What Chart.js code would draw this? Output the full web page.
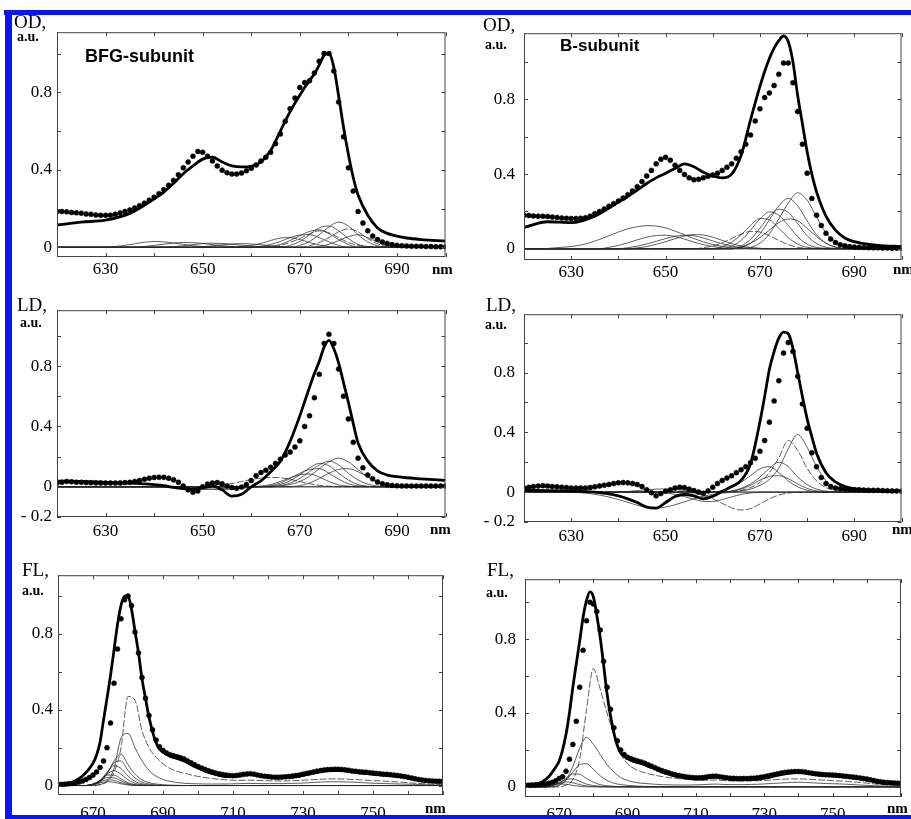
<!DOCTYPE html>
<html>
<head>
<meta charset="utf-8">
<script src="https://cdn.jsdelivr.net/npm/chart.js@4.4.0/dist/chart.umd.min.js"></script>
<style>
body { margin: 0; background: #fff; width: 911px; height: 819px; overflow: hidden; position: relative; font-family: "Liberation Serif", serif; }
canvas { position: absolute; }
.t { position: absolute; color: #000; white-space: nowrap; line-height: 1; z-index: 5; }
.q { font-size: 19px; }
.u { font-size: 14px; font-weight: bold; }
.n { font-size: 15px; font-weight: bold; }
.s { font-family: "Liberation Sans", Arial, sans-serif; font-weight: bold; font-size: 18px; }
.blue { position: absolute; background: #0a14f5; z-index: 9; }
</style>
</head>
<body>
<div class="blue" style="left:4px;top:10px;width:907px;height:5px"></div>
<div class="blue" style="left:5px;top:10px;width:7px;height:809px"></div>
<div class="blue" style="left:5px;top:815px;width:906px;height:4px"></div>

<div class="t q" style="left:14px;top:12px">OD,</div>
<div class="t u" style="left:17px;top:30px">a.u.</div>
<div class="t s" style="left:85px;top:47px">BFG-subunit</div>
<div class="t q" style="left:483px;top:15px">OD,</div>
<div class="t u" style="left:485px;top:38px">a.u.</div>
<div class="t s" style="left:560px;top:37px;font-size:17px">B-subunit</div>
<div class="t q" style="left:17px;top:295px">LD,</div>
<div class="t u" style="left:20px;top:316px">a.u.</div>
<div class="t q" style="left:486px;top:295px">LD,</div>
<div class="t u" style="left:485px;top:318px">a.u.</div>
<div class="t q" style="left:22px;top:560px">FL,</div>
<div class="t u" style="left:22px;top:584px">a.u.</div>
<div class="t q" style="left:487px;top:560px">FL,</div>
<div class="t u" style="left:486px;top:586px">a.u.</div>
<div class="t n" style="left:432px;top:262px">nm</div>
<div class="t n" style="left:893px;top:262px">nm</div>
<div class="t n" style="left:430px;top:522px">nm</div>
<div class="t n" style="left:892px;top:522px">nm</div>
<div class="t n" style="left:425px;top:801px">nm</div>
<div class="t n" style="left:887px;top:801px">nm</div>

<script>
// wavelength grids (nm)
const nmFit = [620,625,630,635,640,642,644,646,648,650,652,654,656,658,660,662,664,666,668,670,671,672,673,674,675,676,677,678,679,680,681,682,684,686,688,690,692,695,700];
const nmDots = [620,621,622,623,624,625,626,627,628,629,630,631,632,633,634,635,636,637,638,639,640,641,642,643,644,645,646,647,648,649,650,651,652,653,654,655,656,657,658,659,660,661,662,663,664,665,666,667,668,669,670,671,672,673,674,675,676,677,678,679,680,681,682,683,684,685,686,687,688,689,690,691,692,693,694,695,696,697,698,699,700];
const nmComp = [620,622,624,626,628,630,632,634,636,638,640,642,644,646,648,650,652,654,656,658,660,662,664,666,668,670,672,674,676,678,680,682,684,686,688,690,692,694,696,698,700];
const nmFitFL = [660,663,665,667,669,670,671,672,673,674,675,676,677,678,679,680,681,682,683,684,685,686,687,688,689,690,692,694,696,698,700,702,704,706,708,710,712,714,716,718,720,722,724,726,728,730,732,734,736,738,740,742,744,746,748,750,752,754,756,758,760,762,764,766,768,770];
const nmDotsFL = [660,661,662,663,664,665,666,667,668,669,670,671,672,673,674,675,676,677,678,679,680,681,682,683,684,685,686,687,688,689,690,691,692,693,694,695,696,697,698,699,700,701,702,703,704,705,706,707,708,709,710,711,712,713,714,715,716,717,718,719,720,721,722,723,724,725,726,727,728,729,730,731,732,733,734,735,736,737,738,739,740,741,742,743,744,745,746,747,748,749,750,751,752,753,754,755,756,757,758,759,760,761,762,763,764,765,766,767,768,769,770];
const nmCompFL = [660,662,664,666,668,670,672,674,676,678,680,682,684,686,688,690,692,694,696,698,700,702,704,706,708,710,712,714,716,718,720,722,724,726,728,730,732,734,736,738,740,742,744,746,748,750,752,754,756,758,760,762,764,766,768,770];

// axis ticks
const xTicksOD = [620,630,640,650,660,670,680,690,700];
const xLabOD = ['','630','','650','','670','','690',''];
const xTicksFL = [660,670,680,690,700,710,720,730,740,750,760,770];
const xLabFL = ['','670','','690','','710','','730','','750','',''];
const yTicksOD = [0,0.2,0.4,0.6,0.8,1.0];
const yLabOD = ['0','','0.4','','0.8',''];
const yTicksLD = [-0.2,0,0.2,0.4,0.6,0.8,1.0];
const yLabLD = ['- 0.2','0','','0.4','','0.8',''];

// OD, BFG-subunit
const odFitBFG = [0.115,0.13,0.14,0.175,0.25,0.285,0.33,0.38,0.42,0.455,0.465,0.44,0.42,0.415,0.418,0.44,0.5,0.6,0.7,0.785,0.825,0.86,0.895,0.94,0.99,1.0,0.93,0.78,0.62,0.48,0.36,0.27,0.165,0.1,0.072,0.058,0.048,0.04,0.032];
const odDotsBFG = [0.185,0.185,0.183,0.18,0.178,0.176,0.172,0.17,0.167,0.165,0.165,
  0.166,0.17,0.177,0.185,0.193,0.203,0.215,0.228,0.243,0.258,
  0.277,0.297,0.32,0.345,0.375,0.41,0.44,0.47,0.495,0.49,
  0.47,0.445,0.42,0.398,0.385,0.378,0.378,0.383,0.395,0.408,
  0.425,0.445,0.465,0.49,0.535,0.585,0.65,0.715,0.77,0.825,
  0.85,0.86,0.9,0.96,1.0,1.0,0.91,0.75,0.57,0.41,
  0.29,0.185,0.125,0.085,0.058,0.04,0.028,0.02,0.014,0.01,
  0.008,0.007,0.006,0.005,0.005,0.004,0.004,0.003,0.003,0.003];
const odCompBFG = [
  [668,[0,0.01,0.03,0.065,0.105,0.13,0.11,0.065,0.028,0.008,0]],
  [666,[0,0.01,0.03,0.065,0.1,0.11,0.085,0.045,0.015,0.004,0]],
  [662,[0,0.005,0.015,0.035,0.06,0.082,0.09,0.07,0.04,0.015,0]],
  [664,[0,0.01,0.025,0.045,0.07,0.085,0.075,0.05,0.025,0.01,0.003,0]],
  [660,[0,0.005,0.015,0.03,0.05,0.063,0.065,0.05,0.028,0.01,0]],
  [656,[0,0.004,0.01,0.02,0.035,0.048,0.05,0.04,0.025,0.012,0.004,0]],
  [670,[0,0.008,0.025,0.05,0.08,0.095,0.08,0.045,0.018,0.005,0]],
  [672,[0,0.005,0.015,0.035,0.055,0.065,0.05,0.028,0.01,0.003,0]],
  [630,[0,0.004,0.01,0.018,0.026,0.03,0.028,0.022,0.015,0.008,0.004,0.001,0]],
  [636,[0,0.004,0.01,0.016,0.022,0.025,0.024,0.02,0.014,0.008,0.004,0.001,0]],
  [642,[0,0.003,0.008,0.014,0.019,0.021,0.02,0.016,0.011,0.006,0.003,0]],
  [648,[0,0.003,0.008,0.013,0.017,0.019,0.017,0.013,0.008,0.004,0.001,0]]
];

// OD, B-subunit
const odFitB = [0.115,0.145,0.14,0.175,0.25,0.28,0.315,0.35,0.38,0.405,0.43,0.455,0.44,0.41,0.39,0.38,0.4,0.5,0.69,0.87,0.95,1.02,1.075,1.115,1.14,1.11,1.0,0.82,0.67,0.52,0.4,0.305,0.175,0.1,0.058,0.038,0.028,0.018,0.012];
const odDotsB = [0.18,0.178,0.176,0.175,0.174,0.173,0.17,0.168,0.165,0.163,0.162,
  0.162,0.163,0.166,0.175,0.188,0.2,0.213,0.228,0.242,0.256,
  0.272,0.29,0.31,0.332,0.36,0.39,0.42,0.455,0.48,0.49,
  0.475,0.448,0.42,0.398,0.38,0.37,0.372,0.38,0.388,0.395,
  0.405,0.42,0.437,0.455,0.485,0.52,0.56,0.61,0.685,0.75,
  0.81,0.835,0.875,0.935,0.995,0.995,0.89,0.735,0.56,0.405,
  0.27,0.18,0.125,0.083,0.052,0.034,0.022,0.016,0.012,0.009,
  0.008,0.007,0.006,0.005,0.005,0.004,0.004,0.003,0.003,0.003];
const odCompB = [
  [624,[0,0.004,0.008,0.012,0.02,0.033,0.05,0.07,0.09,0.107,0.118,0.124,0.122,0.112,0.095,0.075,0.055,0.037,0.023,0.013,0.007,0.003,0]],
  [636,[0,0.008,0.018,0.032,0.048,0.062,0.071,0.073,0.066,0.052,0.036,0.022,0.012,0.005,0.002,0]],
  [640,[0,0.006,0.014,0.026,0.04,0.055,0.067,0.073,0.07,0.058,0.042,0.027,0.015,0.007,0.003,0]],
  [642,[0,0.005,0.012,0.024,0.038,0.054,0.068,0.076,0.074,0.062,0.045,0.028,0.015,0.007,0.003,0]],
  [656,[0,0.006,0.015,0.032,0.055,0.078,0.093,0.09,0.07,0.045,0.022,0.008,0.002,0]],
  [660,[0,0.012,0.035,0.075,0.125,0.162,0.155,0.11,0.06,0.025,0.008,0.002,0]],
  [662,[0,0.015,0.045,0.1,0.16,0.198,0.18,0.125,0.065,0.025,0.008,0.002,0]],
  [664,[0,0.015,0.05,0.11,0.175,0.212,0.195,0.135,0.07,0.028,0.008,0.002,0]],
  [664,[0,0.008,0.03,0.08,0.155,0.23,0.27,0.23,0.15,0.075,0.03,0.008,0.002,0]],
  [666,[0,0.008,0.03,0.08,0.16,0.245,0.3,0.26,0.17,0.085,0.032,0.01,0.002,0]],
  [664,[0,0.01,0.03,0.06,0.1,0.14,0.16,0.15,0.11,0.065,0.03,0.01,0.002,0]]
];

// LD, BFG-subunit
const ldFitBFG = [0.038,0.036,0.03,0.025,0.015,0.008,-0.004,-0.012,-0.017,-0.006,0.004,-0.02,-0.062,-0.05,0.0,0.04,0.1,0.17,0.3,0.47,0.565,0.66,0.75,0.83,0.925,0.97,0.915,0.82,0.69,0.56,0.42,0.29,0.17,0.105,0.078,0.067,0.06,0.053,0.042];
const ldDotsBFG = [0.025,0.03,0.036,0.033,0.03,0.03,0.028,0.027,0.026,0.025,0.025,
  0.025,0.025,0.026,0.028,0.03,0.035,0.042,0.05,0.057,0.062,
  0.064,0.063,0.057,0.046,0.03,0.006,-0.02,-0.036,-0.027,0.0,
  0.018,0.025,0.028,0.02,0.006,-0.004,-0.01,-0.002,0.015,0.042,
  0.074,0.095,0.11,0.13,0.155,0.183,0.21,0.23,0.263,0.305,
  0.4,0.47,0.59,0.745,0.95,1.01,0.95,0.78,0.6,0.45,
  0.295,0.19,0.126,0.078,0.053,0.032,0.021,0.013,0.009,0.007,
  0.006,0.006,0.005,0.005,0.005,0.005,0.005,0.005,0.005,0.005];
const ldCompBFG = [
  [664,[0,0.005,0.015,0.035,0.07,0.12,0.165,0.19,0.165,0.115,0.065,0.03,0.01,0.003,0]],
  [664,[0,0.008,0.025,0.055,0.1,0.145,0.17,0.145,0.09,0.045,0.018,0.005,0.001,0]],
  [662,[0,0.005,0.015,0.04,0.08,0.125,0.155,0.14,0.09,0.045,0.015,0.004,0]],
  [662,[0,0.008,0.025,0.055,0.09,0.115,0.12,0.09,0.05,0.02,0.006,0.001,0]],
  [668,[0,0.008,0.025,0.055,0.09,0.115,0.12,0.1,0.065,0.032,0.012,0.003,0]],
  [660,[0,0.005,0.015,0.035,0.06,0.08,0.085,0.065,0.035,0.013,0.004,0]],
  [650,[0,0.005,0.012,0.022,0.035,0.048,0.058,0.062,0.06,0.05,0.035,0.02,0.01,0.004,0]],
  [640,[0,-0.003,-0.007,-0.012,-0.016,-0.018,-0.016,-0.012,-0.007,-0.003,0]],
  [646,[0,-0.004,-0.01,-0.016,-0.02,-0.016,-0.01,-0.004,0]]
];

// LD, B-subunit
const ldFitB = [0.012,0.01,0.006,0.0,-0.025,-0.045,-0.07,-0.1,-0.107,-0.07,-0.03,-0.016,-0.025,-0.045,-0.028,0.005,0.037,0.078,0.19,0.47,0.64,0.82,0.94,1.03,1.07,1.06,0.96,0.8,0.64,0.49,0.37,0.26,0.13,0.068,0.037,0.023,0.017,0.012,0.006];
const ldDotsB = [0.027,0.032,0.037,0.04,0.043,0.04,0.037,0.035,0.033,0.03,0.027,
  0.027,0.027,0.028,0.031,0.035,0.041,0.046,0.051,0.057,0.062,
  0.064,0.062,0.057,0.051,0.037,0.016,-0.004,-0.025,-0.01,0.006,
  0.015,0.027,0.033,0.03,0.02,0.01,0.0,-0.008,0.008,0.033,
  0.057,0.078,0.094,0.109,0.13,0.15,0.17,0.197,0.226,0.273,
  0.345,0.468,0.61,0.745,0.93,1.0,0.94,0.775,0.59,0.427,
  0.263,0.17,0.098,0.057,0.037,0.027,0.022,0.02,0.018,0.016,
  0.015,0.014,0.013,0.012,0.012,0.01,0.009,0.008,0.007,0.006];
const ldCompB = [
  [664,[0.002,0.008,0.02,0.045,0.085,0.16,0.29,0.385,0.3,0.17,0.075,0.028,0.01,0.003,0]],
  [664,[0.004,0.012,0.03,0.065,0.13,0.23,0.345,0.28,0.16,0.075,0.03,0.01,0.003,0]],
  [662,[0,0.008,0.025,0.055,0.1,0.16,0.2,0.17,0.1,0.05,0.02,0.006,0.001,0]],
  [660,[0,0.01,0.03,0.065,0.11,0.155,0.17,0.13,0.075,0.035,0.012,0.003,0]],
  [662,[0,0.006,0.02,0.045,0.08,0.105,0.11,0.09,0.055,0.025,0.008,0.002,0]],
  [630,[0,-0.004,-0.01,-0.02,-0.033,-0.05,-0.068,-0.088,-0.102,-0.107,-0.1,-0.085,-0.065,-0.045,-0.028,-0.015,-0.007,-0.002,0]],
  [648,[0,-0.005,-0.015,-0.03,-0.048,-0.062,-0.063,-0.05,-0.032,-0.016,-0.006,0]],
  [654,[0,-0.008,-0.022,-0.045,-0.075,-0.105,-0.12,-0.11,-0.08,-0.045,-0.02,-0.006,-0.001,0]],
  [640,[0,0.004,0.01,0.016,0.02,0.021,0.018,0.012,0.006,0.002,0]]
];

// FL, BFG-subunit
const flFitBFG = [0.008,0.012,0.025,0.05,0.09,
  0.118,0.16,0.227,0.345,0.46,0.58,0.714,0.85,0.95,1.0,1.0,0.93,0.815,0.7,0.563,0.46,0.36,0.286,0.227,0.193,0.176,
  0.155,0.143,0.13,0.11,0.092,0.076,0.064,0.054,0.047,0.048,
  0.052,0.058,0.058,0.05,0.045,0.042,0.041,0.043,0.047,0.054,
  0.062,0.07,0.076,0.079,0.08,0.078,0.072,0.067,0.064,0.06,
  0.056,0.054,0.05,0.047,0.04,0.032,0.026,0.022,0.02,0.019];
const flDotsBFG = [0.005,0.006,0.007,0.009,0.011,0.014,0.018,0.024,0.032,0.042,0.055,
  0.072,0.095,0.13,0.2,0.33,0.54,0.72,0.88,0.98,1.0,
  0.95,0.81,0.7,0.57,0.46,0.37,0.295,0.24,0.205,0.185,
  0.172,0.163,0.157,0.152,0.147,0.14,0.13,0.12,0.11,0.1,
  0.092,0.085,0.078,0.072,0.066,0.062,0.058,0.055,0.053,0.052,
  0.053,0.056,0.059,0.061,0.062,0.06,0.056,0.052,0.049,0.047,
  0.045,0.044,0.044,0.045,0.046,0.048,0.05,0.053,0.056,0.06,
  0.064,0.068,0.072,0.076,0.079,0.082,0.084,0.085,0.086,0.086,
  0.085,0.083,0.08,0.077,0.075,0.073,0.071,0.07,0.068,0.066,
  0.064,0.062,0.06,0.059,0.057,0.055,0.053,0.05,0.047,0.044,
  0.04,0.036,0.032,0.029,0.027,0.025,0.024,0.023,0.022,0.022];
const flCompBFG = [
  [670,[0,0.005,0.02,0.07,0.2,0.47,0.45,0.29,0.2,0.15,
    0.115,0.09,0.075,0.065,0.056,0.048,0.042,0.037,0.033,0.03,
    0.028,0.027,0.028,0.028,0.026,0.025,0.024,0.024,0.025,0.026,
    0.028,0.03,0.032,0.034,0.035,0.035,0.034,0.032,0.03,0.028,
    0.026,0.024,0.022,0.02,0.018,0.015,0.012,0.01,0.008,0.007,0.006]],
  [670,[0,0.005,0.025,0.09,0.25,0.275,0.2,0.13,0.08,0.05,
    0.032,0.022,0.016,0.012,0.01,0.009,0.008,0.008,0.008,0.008,
    0.009,0.01,0.011,0.011,0.01,0.01,0.01,0.01,0.011,0.012,
    0.013,0.015,0.017,0.019,0.02,0.02,0.019,0.018,0.016,0.014,
    0.012,0.011,0.01,0.009,0.008,0.007,0.006,0.005,0.004,0.003,0.003]],
  [668,[0,0.004,0.018,0.06,0.13,0.165,0.11,0.06,0.03,0.015,0.008,0.004,0.002,0.001,0]],
  [668,[0,0.005,0.02,0.065,0.12,0.13,0.08,0.04,0.018,0.008,0.003,0.001,0]],
  [668,[0,0.006,0.025,0.07,0.105,0.09,0.05,0.022,0.009,0.003,0.001,0]],
  [668,[0,0.006,0.025,0.06,0.078,0.06,0.03,0.012,0.004,0.001,0]],
  [668,[0,0.008,0.028,0.055,0.055,0.035,0.015,0.005,0.002,0]],
  [668,[0,0.008,0.025,0.042,0.04,0.025,0.01,0.003,0]],
  [668,[0,0.008,0.02,0.03,0.027,0.015,0.006,0.001,0]],
  [668,[0,0.006,0.014,0.02,0.017,0.009,0.003,0]]
];

// FL, B-subunit
const flFitB = [0.01,0.014,0.027,0.056,0.107,
  0.14,0.2,0.285,0.4,0.54,0.666,0.79,0.92,1.01,1.056,1.03,0.93,0.81,0.66,0.505,0.386,0.293,0.225,0.183,0.166,0.153,
  0.136,0.127,0.112,0.098,0.081,0.07,0.059,0.053,0.047,0.044,
  0.044,0.05,0.054,0.047,0.042,0.04,0.04,0.04,0.042,0.047,
  0.054,0.064,0.071,0.076,0.078,0.076,0.07,0.064,0.061,0.059,
  0.056,0.053,0.047,0.044,0.037,0.03,0.024,0.02,0.018,0.017];
const flDotsB = [0.008,0.009,0.01,0.011,0.012,0.014,0.016,0.02,0.025,0.033,0.045,
  0.055,0.085,0.15,0.23,0.355,0.54,0.74,0.9,1.0,0.99,
  0.95,0.85,0.68,0.54,0.42,0.32,0.25,0.2,0.175,0.16,
  0.152,0.145,0.14,0.135,0.128,0.12,0.112,0.104,0.096,0.088,
  0.082,0.076,0.07,0.065,0.061,0.058,0.055,0.052,0.05,0.049,
  0.049,0.05,0.053,0.056,0.058,0.058,0.055,0.052,0.049,0.047,
  0.046,0.045,0.045,0.045,0.045,0.046,0.047,0.049,0.052,0.055,
  0.059,0.063,0.067,0.071,0.075,0.078,0.08,0.082,0.083,0.083,
  0.082,0.08,0.077,0.074,0.071,0.069,0.067,0.066,0.065,0.064,
  0.063,0.061,0.059,0.057,0.055,0.053,0.051,0.048,0.045,0.042,
  0.038,0.034,0.03,0.027,0.025,0.023,0.022,0.021,0.02,0.02];
const flCompB = [
  [670,[0,0.01,0.04,0.15,0.42,0.64,0.53,0.4,0.28,0.18,
    0.125,0.098,0.082,0.071,0.063,0.056,0.05,0.046,0.042,0.039,
    0.036,0.035,0.036,0.037,0.034,0.032,0.031,0.031,0.032,0.033,
    0.035,0.037,0.04,0.042,0.043,0.043,0.042,0.04,0.038,0.036,
    0.034,0.032,0.03,0.027,0.024,0.02,0.016,0.013,0.011,0.01,0.009]],
  [668,[0,0.01,0.04,0.11,0.21,0.268,0.23,0.175,0.12,0.08,0.05,
    0.035,0.025,0.02,0.017,0.014,0.012,0.011,0.01,0.01,0.01,
    0.011,0.012,0.014,0.015,0.013,0.012,0.012,0.012,0.013,0.014,
    0.016,0.018,0.02,0.022,0.024,0.025,0.024,0.022,0.02,0.018,
    0.017,0.016,0.014,0.012,0.01,0.008,0.006,0.005,0.004,0.003,0.003]],
  [668,[0,0.01,0.035,0.08,0.12,0.125,0.095,0.06,0.035,0.02,0.012,0.008,0.005,0.003,0.002,0.001,0]],
  [666,[0,0.005,0.02,0.045,0.07,0.068,0.045,0.025,0.012,0.006,0.003,0.001,0]],
  [666,[0,0.008,0.022,0.04,0.043,0.03,0.015,0.007,0.003,0.001,0]],
  [666,[0,0.01,0.02,0.027,0.022,0.012,0.005,0.002,0]],
  [664,[0,0.006,0.012,0.016,0.014,0.008,0.003,0]]
];

// chart-area boxes [left, top, right, bottom] in page pixels
const panels = [
  { box: [57, 20, 447, 257], xr: [620, 700], yr: [-0.05, 1.11], xt: xTicksOD, xl: xLabOD, yt: yTicksOD, yl: yLabOD,
    fitNm: nmFit, fit: odFitBFG, dotNm: nmDots, dots: odDotsBFG, compNm: nmComp, comps: odCompBFG, xpad: 2, ypad: 5, dash: [3, 6] },
  { box: [524, 17, 903, 260], xr: [620, 700], yr: [-0.06, 1.155], xt: xTicksOD, xl: xLabOD, yt: yTicksOD, yl: yLabOD,
    fitNm: nmFit, fit: odFitB, dotNm: nmDots, dots: odDotsB, compNm: nmComp, comps: odCompB, xpad: 2, ypad: 9, dash: [4] },
  { box: [57, 298, 447, 517], xr: [620, 700], yr: [-0.2, 1.17], xt: xTicksOD, xl: xLabOD, yt: yTicksLD, yl: yLabLD,
    fitNm: nmFit, fit: ldFitBFG, dotNm: nmDots, dots: ldDotsBFG, compNm: nmComp, comps: ldCompBFG, xpad: 4, ypad: 5, dash: [6] },
  { box: [524, 298, 903, 522], xr: [620, 700], yr: [-0.2, 1.19], xt: xTicksOD, xl: xLabOD, yt: yTicksLD, yl: yLabLD,
    fitNm: nmFit, fit: ldFitB, dotNm: nmDots, dots: ldDotsB, compNm: nmComp, comps: ldCompB, xpad: 4, ypad: 9, dash: [1, 7] },
  { box: [58, 563, 448, 795], xr: [660, 770], yr: [-0.05, 1.11], xt: xTicksFL, xl: xLabFL, yt: yTicksOD, yl: yLabOD,
    fitNm: nmFitFL, fit: flFitBFG, dotNm: nmDotsFL, dots: flDotsBFG, compNm: nmCompFL, comps: flCompBFG, xpad: 8, ypad: 5, dash: [0] },
  { box: [525, 563, 905, 797], xr: [660, 770], yr: [-0.055, 1.125], xt: xTicksFL, xl: xLabFL, yt: yTicksOD, yl: yLabOD,
    fitNm: nmFitFL, fit: flFitB, dotNm: nmDotsFL, dots: flDotsB, compNm: nmCompFL, comps: flCompB, xpad: 7, ypad: 9, dash: [0] }
];

const YW = 50, XH = 32, PAD = 3;

function pts(xs, ys) {
  return ys.map((y, i) => ({ x: xs[i], y: y }));
}

function compPts(grid, c) {
  const k = grid.indexOf(c[0]);
  const out = c[1].map((v, i) => ({ x: grid[k + i], y: v }));
  if (k > 0) out.unshift({ x: grid[0], y: 0 });
  if (k + c[1].length < grid.length) out.push({ x: grid[grid.length - 1], y: 0 });
  return out;
}

// box frame with inward ticks on all four sides
const frame = {
  id: 'frame',
  afterDatasetsDraw(chart) {
    const { ctx, chartArea: a, scales: { x, y } } = chart;
    ctx.save();
    ctx.strokeStyle = '#444';
    ctx.lineWidth = 1;
    ctx.strokeRect(a.left + 0.5, a.top + 0.5, a.right - a.left - 1, a.bottom - a.top - 1);
    ctx.beginPath();
    x.ticks.forEach(t => {
      const px = Math.round(x.getPixelForValue(t.value)) + 0.5;
      ctx.moveTo(px, a.top); ctx.lineTo(px, a.top + 4);
      ctx.moveTo(px, a.bottom); ctx.lineTo(px, a.bottom - 4);
    });
    y.ticks.forEach(t => {
      const py = Math.round(y.getPixelForValue(t.value)) + 0.5;
      ctx.moveTo(a.left, py); ctx.lineTo(a.left + 4, py);
      ctx.moveTo(a.right, py); ctx.lineTo(a.right - 4, py);
    });
    ctx.stroke();
    ctx.restore();
  }
};

panels.forEach(p => {
  const [l, t, r, b] = p.box;
  const cv = document.createElement('canvas');
  cv.width = r - l + YW + PAD;
  cv.height = b - t + PAD + XH;
  cv.style.left = (l - YW) + 'px';
  cv.style.top = (t - PAD) + 'px';
  document.body.appendChild(cv);

  const ds = [];
  ds.push({ data: pts(p.dotNm, p.dots), showLine: false, pointRadius: 2.5, pointBackgroundColor: '#000',
            pointBorderColor: '#000', pointBorderWidth: 0.5, order: 0 });
  ds.push({ data: pts(p.fitNm, p.fit), borderColor: '#000', borderWidth: 2.8, pointRadius: 0, order: 1 });
  p.comps.forEach((c, i) => {
    ds.push({ data: compPts(p.compNm, c), borderColor: '#2a2a2a', borderWidth: 0.75, pointRadius: 0,
              borderDash: p.dash.includes(i) ? [7, 2] : [], order: 2 });
  });

  new Chart(cv, {
    type: 'line',
    data: { datasets: ds },
    plugins: [frame],
    options: {
      responsive: false,
      animation: false,
      events: [],
      layout: { padding: { top: PAD, right: PAD, left: 0, bottom: 0 } },
      plugins: { legend: { display: false }, tooltip: { enabled: false } },
      elements: { line: { cubicInterpolationMode: 'monotone', fill: false } },
      scales: {
        x: {
          type: 'linear', min: p.xr[0], max: p.xr[1],
          grid: { display: false, drawTicks: false }, border: { display: false },
          afterBuildTicks: s => { s.ticks = p.xt.map(v => ({ value: v })); },
          afterFit: s => { s.height = XH; },
          ticks: { autoSkip: false, maxRotation: 0, minRotation: 0, padding: p.xpad, color: '#000',
                   font: { family: 'Liberation Serif', size: 17 }, callback: (v, i) => p.xl[i] }
        },
        y: {
          type: 'linear', min: p.yr[0], max: p.yr[1],
          grid: { display: false, drawTicks: false }, border: { display: false },
          afterBuildTicks: s => { s.ticks = p.yt.map(v => ({ value: v })); },
          afterFit: s => { s.width = YW; },
          ticks: { autoSkip: false, padding: p.ypad, color: '#000',
                   font: { family: 'Liberation Serif', size: 17 }, callback: (v, i) => p.yl[i] }
        }
      }
    }
  });
});
</script>
</body>
</html>
